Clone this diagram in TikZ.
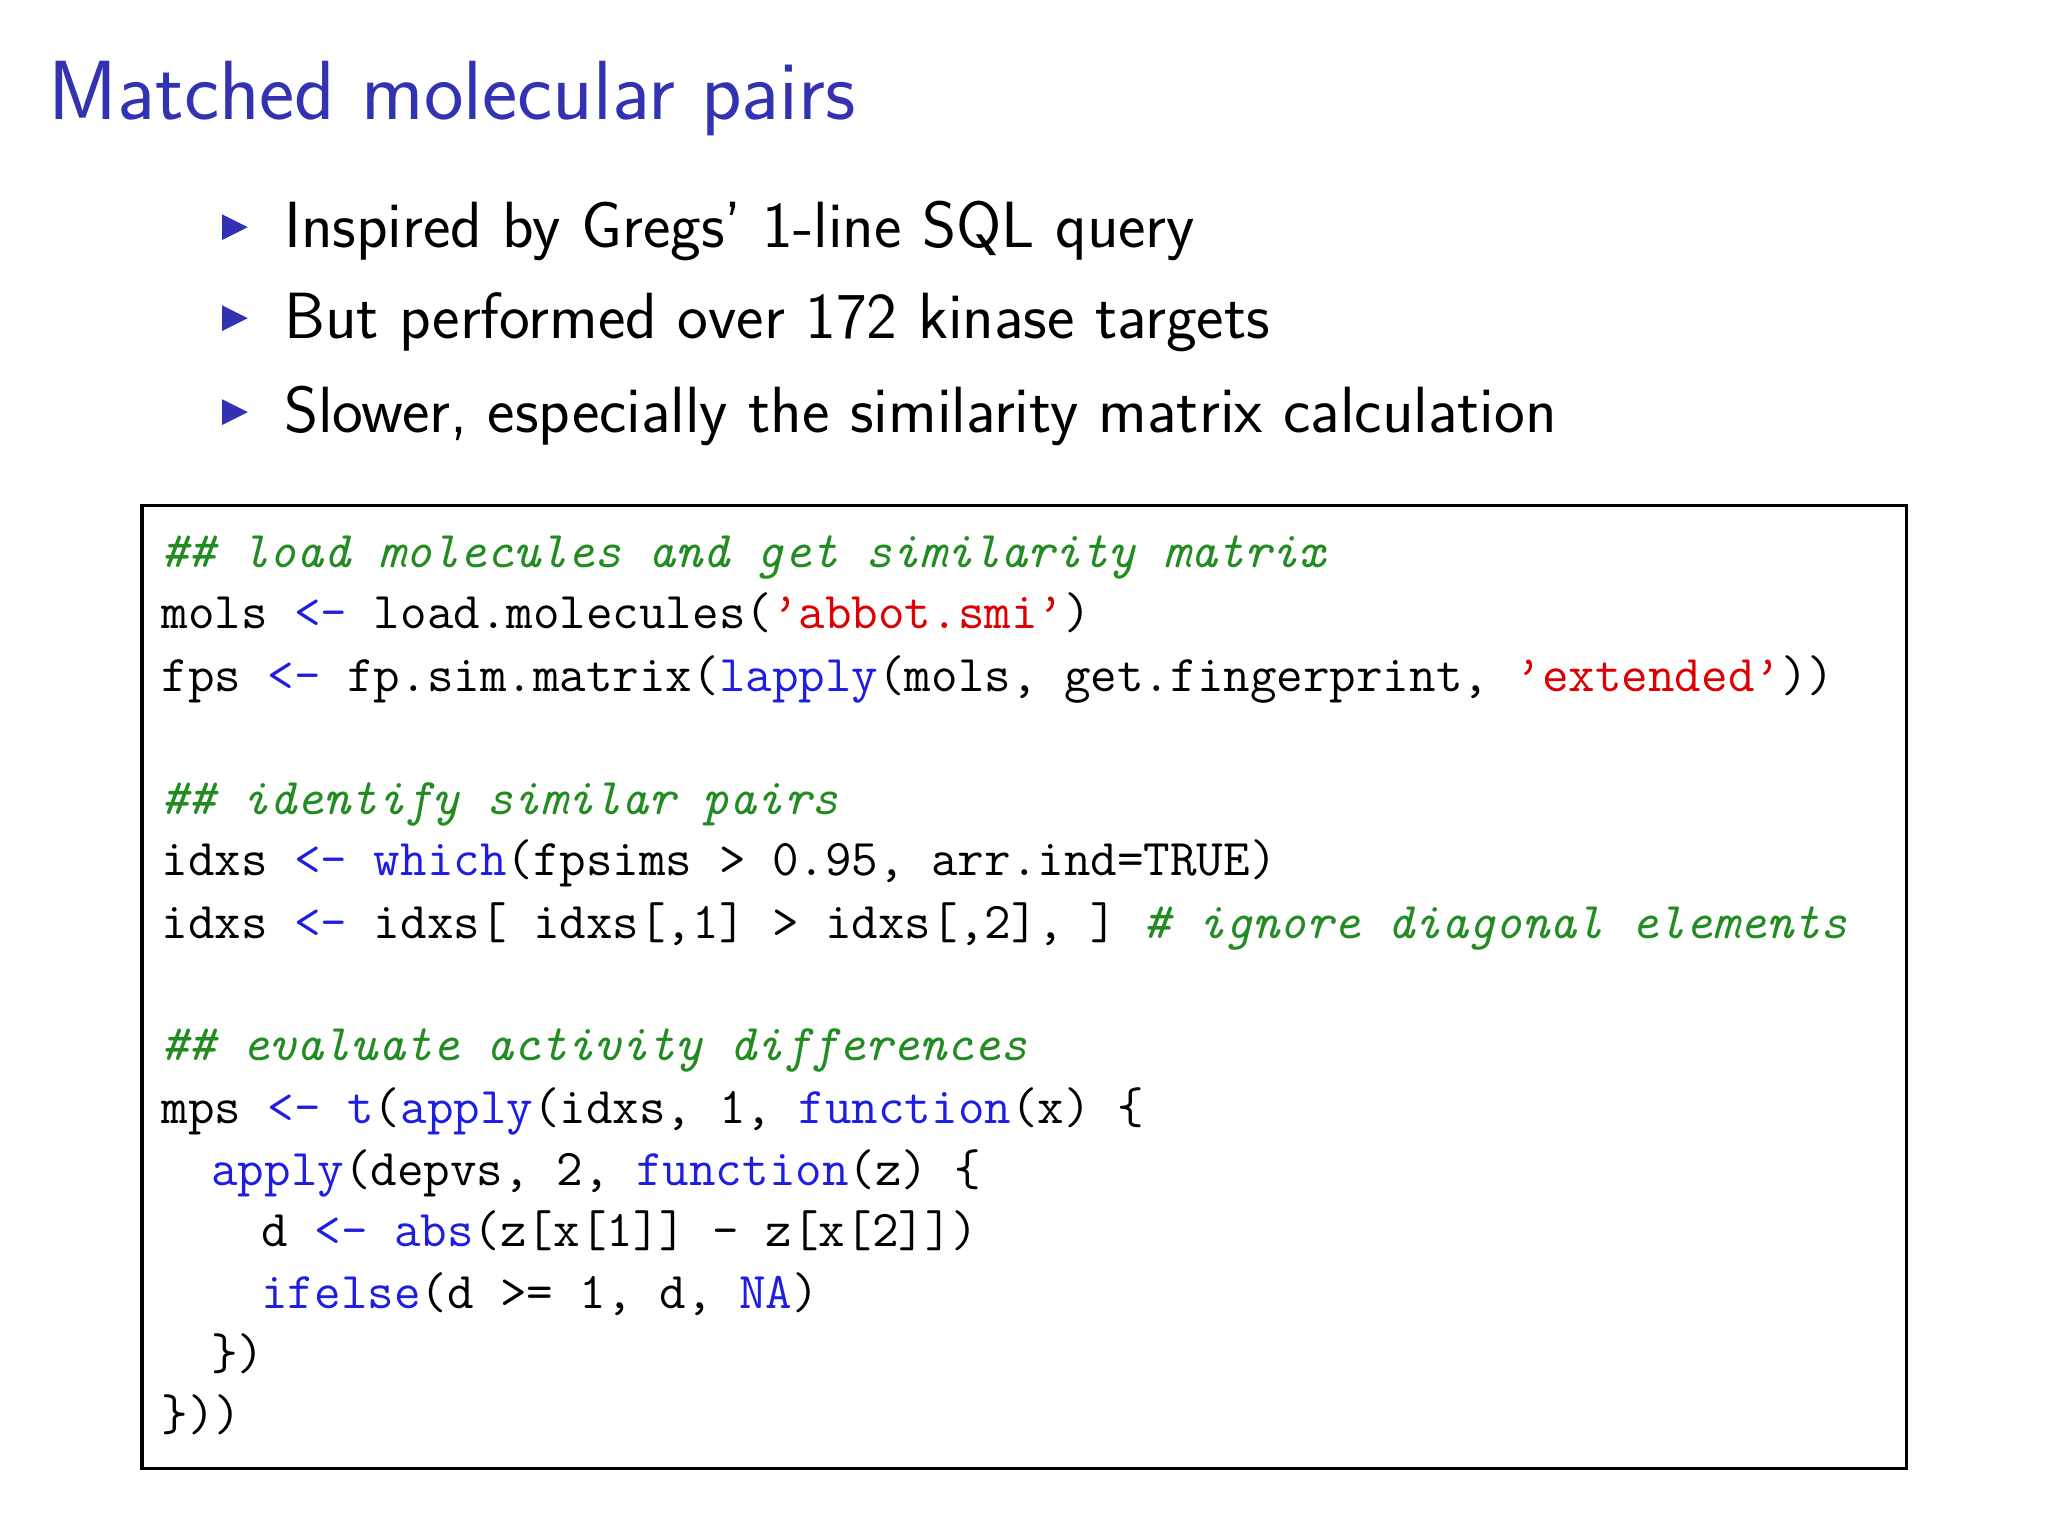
\documentclass[tikz,border=0pt]{standalone}
\usepackage{fontspec}
\definecolor{titleblue}{RGB}{51,51,178}
\definecolor{kwblue}{RGB}{30,30,225}
\definecolor{strred}{RGB}{220,0,0}
\definecolor{cmgreen}{RGB}{34,139,34}
\newcommand{\kw}[1]{\textcolor{kwblue}{#1}}
\newcommand{\strg}[1]{\textcolor{strred}{#1}}
\newcommand{\cmt}[1]{\textcolor{cmgreen}{\itshape #1}}
\begin{document}
\begin{tikzpicture}
\useasboundingbox (0,0) rectangle (20.48,15.36);
\tikzset{
  codeline/.style={anchor=base west,inner sep=0pt,font=\ttfamily\fontsize{14.67}{17}\selectfont},
  bullettext/.style={anchor=base west,inner sep=0pt,font=\sffamily\fontsize{18.6}{22}\selectfont},
  bul/.style={fill=titleblue,draw=none}
}
\begin{scope}[shift={(-0.107,0.087)},shift={(10.24,7.68)},scale=0.989,shift={(-10.24,-7.68)}]
\node[anchor=base west,inner sep=0pt,text=titleblue,font=\sffamily\fontsize{23.9}{28}\selectfont] (title) at (0.48,14.15) {Matched molecular pairs};
\foreach \y/\t [count=\i] in {12.85/{Inspired by Gregs' 1-line SQL query},11.93/{But performed over 172 kinase targets},10.98/{Slower, especially the similarity matrix calculation}}{
  \fill[bul] (2.24,\y+0.08) -- (2.24,\y+0.34) -- (2.50,\y+0.21) -- cycle;
  \node[bullettext] (b\i) at (2.86,\y) {\t};
}
\draw[line width=0.9pt] (1.43,0.51) rectangle (19.27,10.25);
\node[codeline] (c1) at (1.62,9.62) {\cmt{\#\# load molecules and get similarity matrix}};
\node[codeline] (c2) at (1.62,9.00) {mols \kw{<-} load.molecules(\strg{’abbot.smi’})};
\node[codeline] (c3) at (1.62,8.37) {fps \kw{<-} fp.sim.matrix(\kw{lapply}(mols, get.fingerprint, \strg{’extended’}))};
\node[codeline] (c4) at (1.62,7.12) {\cmt{\#\# identify similar pairs}};
\node[codeline] (c5) at (1.62,6.50) {idxs \kw{<-} \kw{which}(fpsims > 0.95, arr.ind=TRUE)};
\node[codeline] (c6) at (1.62,5.87) {idxs \kw{<-} idxs[ idxs[,1] > idxs[,2], ] \cmt{\# ignore diagonal elements}};
\node[codeline] (c7) at (1.62,4.63) {\cmt{\#\# evaluate activity differences}};
\node[codeline] (c8) at (1.62,4.00) {mps \kw{<-} \kw{t}(\kw{apply}(idxs, 1, \kw{function}(x) \{};
\node[codeline] (c9) at (2.125,3.37) {\kw{apply}(depvs, 2, \kw{function}(z) \{};
\node[codeline] (c10) at (2.63,2.75) {d \kw{<-} \kw{abs}(z[x[1]] - z[x[2]])};
\node[codeline] (c11) at (2.63,2.13) {\kw{ifelse}(d >= 1, d, \kw{NA})};
\node[codeline] (c12) at (2.125,1.51) {\})};
\node[codeline] (c13) at (1.62,0.89) {\}))};
\end{scope}
\end{tikzpicture}
\end{document}
